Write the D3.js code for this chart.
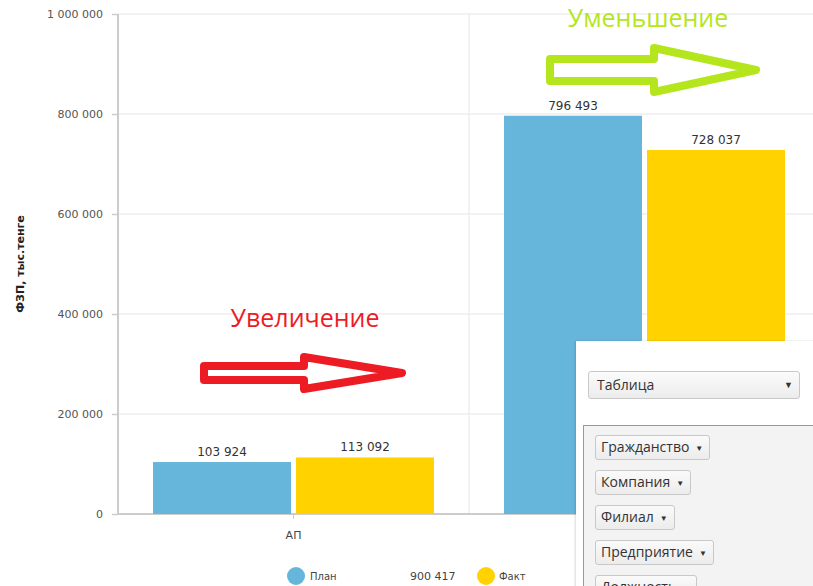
<!DOCTYPE html>
<html>
<head>
<meta charset="utf-8">
<script src="https://cdn.jsdelivr.net/npm/d3@7"></script>
<style>
  html, body { margin: 0; padding: 0; background: #fff; overflow: hidden; }
  #wrap { position: relative; width: 813px; height: 586px; }
  #panel {
    position: absolute; left: 576px; top: 341px; width: 260px; height: 260px;
    background: #fff; box-shadow: -1px 0 2px rgba(0,0,0,0.15);
    font-family: "Open Sans", sans-serif; font-size: 14px; color: #333;
  }
  .sel {
    position: absolute; left: 12px; top: 30px; width: 212px; height: 28px;
    border: 1px solid #c8c8c8; border-radius: 3px; box-sizing: border-box;
    background: linear-gradient(#fbfbfb, #ececec); line-height: 26px; padding-left: 8px;
  }
  .sel .caret { position: absolute; right: 6px; top: 0; font-size: 9px; }
  .box {
    position: absolute; left: 7px; top: 84px; width: 260px; height: 200px;
    background: #f3f3f3; border: 1px solid #999; box-sizing: border-box;
    padding: 9px 0 0 11px;
  }
  .btn {
    display: table; height: 24px; line-height: 22px; box-sizing: border-box;
    border: 1px solid #c8c8c8; border-radius: 3px; background: linear-gradient(#fafafa, #ececec);
    padding: 0 6px 0 5px; margin-bottom: 10px; white-space: nowrap;
  }
  .btn .caret { font-size: 8px; margin-left: 6px; vertical-align: 1px; }
</style>
</head>
<body>
<div id="wrap"><div id="chart"></div><div id="panel"></div></div>
<script>
const categories = ["АП", "АУП"];
const seriesNames = ["План", "Факт"];
const planValues = [103924, 796493];
const factValues = [113092, 728037];
const yTicks = [0, 200000, 400000, 600000, 800000, 1000000];
const filterNames = ["Гражданство", "Компания", "Филиал", "Предприятие", "Должность"];

const colors = { "План": "#66b5db", "Факт": "#ffd200" };
const fmt = v => d3.format(",")(v).replace(/,/g, " ");

const W = 813, H = 586;
const margin = { top: 14, right: -7, bottom: 72, left: 118 };
const width = W - margin.left - margin.right;
const height = H - margin.top - margin.bottom;

const svg = d3.select("#chart").append("svg")
  .attr("width", W)
  .attr("height", H)
  .style("display", "block");

const g = svg.append("g")
  .attr("transform", `translate(${margin.left},${margin.top})`);

const x0 = d3.scaleBand().domain(categories).range([0, width]).paddingInner(0).paddingOuter(0);
const x1 = d3.scaleBand().domain(seriesNames).range([0, x0.bandwidth()])
  .paddingInner(0.035).paddingOuter(0.245);
const y = d3.scaleLinear().domain([0, 1000000]).range([height, 0]);

// gridlines
g.append("g")
  .selectAll("line")
  .data(yTicks)
  .join("line")
  .attr("x1", 0).attr("x2", W)
  .attr("y1", d => y(d)).attr("y2", d => y(d))
  .attr("stroke", "#eeeeee")
  .attr("stroke-width", 1.5);

g.append("g")
  .selectAll("line")
  .data(categories)
  .join("line")
  .attr("x1", d => x0(d) + x0.bandwidth()).attr("x2", d => x0(d) + x0.bandwidth())
  .attr("y1", 0).attr("y2", height)
  .attr("stroke", "#eeeeee")
  .attr("stroke-width", 1.5);

// Y axis
const yAxis = g.append("g")
  .call(d3.axisLeft(y).tickValues(yTicks).tickSize(6).tickPadding(9).tickFormat(fmt));
yAxis.select(".domain").attr("stroke", "#cccccc").attr("stroke-width", 2).attr("d", `M0,0V${height}`);
yAxis.selectAll(".tick line").attr("stroke", "#cccccc").attr("stroke-width", 1.5);
yAxis.selectAll("text")
  .style("font-family", "DejaVu Sans, sans-serif")
  .style("font-size", "11px")
  .attr("fill", "#555");

// X axis
const xAxis = g.append("g")
  .attr("transform", `translate(0,${height})`)
  .call(d3.axisBottom(x0).tickSize(5).tickPadding(12));
xAxis.select(".domain").attr("stroke", "#cccccc").attr("stroke-width", 2).attr("d", `M0,0H${W}`);
xAxis.selectAll(".tick line").attr("stroke", "#cccccc");
xAxis.selectAll("text")
  .style("font-family", "DejaVu Sans, sans-serif")
  .style("font-size", "11px")
  .attr("fill", "#444");

// Y axis label
svg.append("text")
  .attr("transform", `translate(24,${margin.top + height / 2}) rotate(-90)`)
  .attr("text-anchor", "middle")
  .style("font-family", "DejaVu Sans, sans-serif")
  .style("font-size", "11px")
  .style("font-weight", "bold")
  .attr("fill", "#222")
  .text("ФЗП, тыс.тенге");

// Bars
const rows = categories.map((c, i) => ({
  category: c,
  values: [
    { series: "План", value: planValues[i] },
    { series: "Факт", value: factValues[i] }
  ]
}));

const groups = g.selectAll(".grp")
  .data(rows)
  .join("g")
  .attr("class", "grp")
  .attr("transform", d => `translate(${x0(d.category)},0)`);

groups.selectAll("rect")
  .data(d => d.values)
  .join("rect")
  .attr("x", d => x1(d.series))
  .attr("y", d => y(d.value))
  .attr("width", x1.bandwidth())
  .attr("height", d => height - y(d.value))
  .attr("fill", d => colors[d.series]);

groups.selectAll("text")
  .data(d => d.values)
  .join("text")
  .attr("x", d => x1(d.series) + x1.bandwidth() / 2)
  .attr("y", d => y(d.value) - 6)
  .attr("text-anchor", "middle")
  .style("font-family", "DejaVu Sans, sans-serif")
  .style("font-size", "12px")
  .attr("fill", "#333")
  .text(d => fmt(d.value));

// Legend
const legend = svg.append("g").attr("transform", "translate(296,576)");
const planTotal = d3.sum(planValues);
legend.append("circle").attr("cx", 0).attr("cy", 0).attr("r", 9).attr("fill", colors["План"]);
legend.append("text").attr("x", 14).attr("y", 4)
  .style("font-family", "DejaVu Sans, sans-serif").style("font-size", "10px")
  .attr("fill", "#444").text("План");
legend.append("text").attr("x", 114).attr("y", 4)
  .style("font-family", "DejaVu Sans, sans-serif").style("font-size", "11px")
  .attr("fill", "#444").text(fmt(planTotal));
legend.append("circle").attr("cx", 190).attr("cy", 0).attr("r", 9).attr("fill", colors["Факт"]);
legend.append("text").attr("x", 203).attr("y", 4)
  .style("font-family", "DejaVu Sans, sans-serif").style("font-size", "10px")
  .attr("fill", "#444").text("Факт");

// Annotations (hand-drawn arrows over the chart)
const arrowPath = (x0a, x1a, xh, yc, shaft, head) => [
  [x0a, yc - shaft], [xh, yc - shaft], [xh, yc - head], [x1a, yc],
  [xh, yc + head], [xh, yc + shaft], [x0a, yc + shaft]
];
const line = d3.line().curve(d3.curveLinearClosed);

svg.append("path")
  .attr("d", line(arrowPath(204, 402, 304, 373, 7, 16)))
  .attr("fill", "#fff")
  .attr("stroke", "#ed1c24")
  .attr("stroke-width", 8)
  .attr("stroke-linejoin", "round");

svg.append("text")
  .attr("x", 305).attr("y", 327)
  .attr("text-anchor", "middle")
  .style("font-family", "Open Sans, sans-serif")
  .style("font-size", "25px")
  .attr("fill", "#ed1c24")
  .text("Увеличение");

svg.append("path")
  .attr("d", line(arrowPath(550, 756, 654, 70, 11, 22)))
  .attr("fill", "#fff")
  .attr("stroke", "#b5e61d")
  .attr("stroke-width", 8)
  .attr("stroke-linejoin", "round");

svg.append("text")
  .attr("x", 648).attr("y", 27)
  .attr("text-anchor", "middle")
  .style("font-family", "Open Sans, sans-serif")
  .style("font-size", "25px")
  .attr("fill", "#b5e61d")
  .text("Уменьшение");

// Overlay panel
const panel = d3.select("#panel");
const sel = panel.append("div").attr("class", "sel").text("Таблица");
sel.append("span").attr("class", "caret").text("▼");
const box = panel.append("div").attr("class", "box");
filterNames.forEach(n => {
  const b = box.append("div").attr("class", "btn").text(n);
  b.append("span").attr("class", "caret").text("▼");
});
</script>
</body>
</html>
